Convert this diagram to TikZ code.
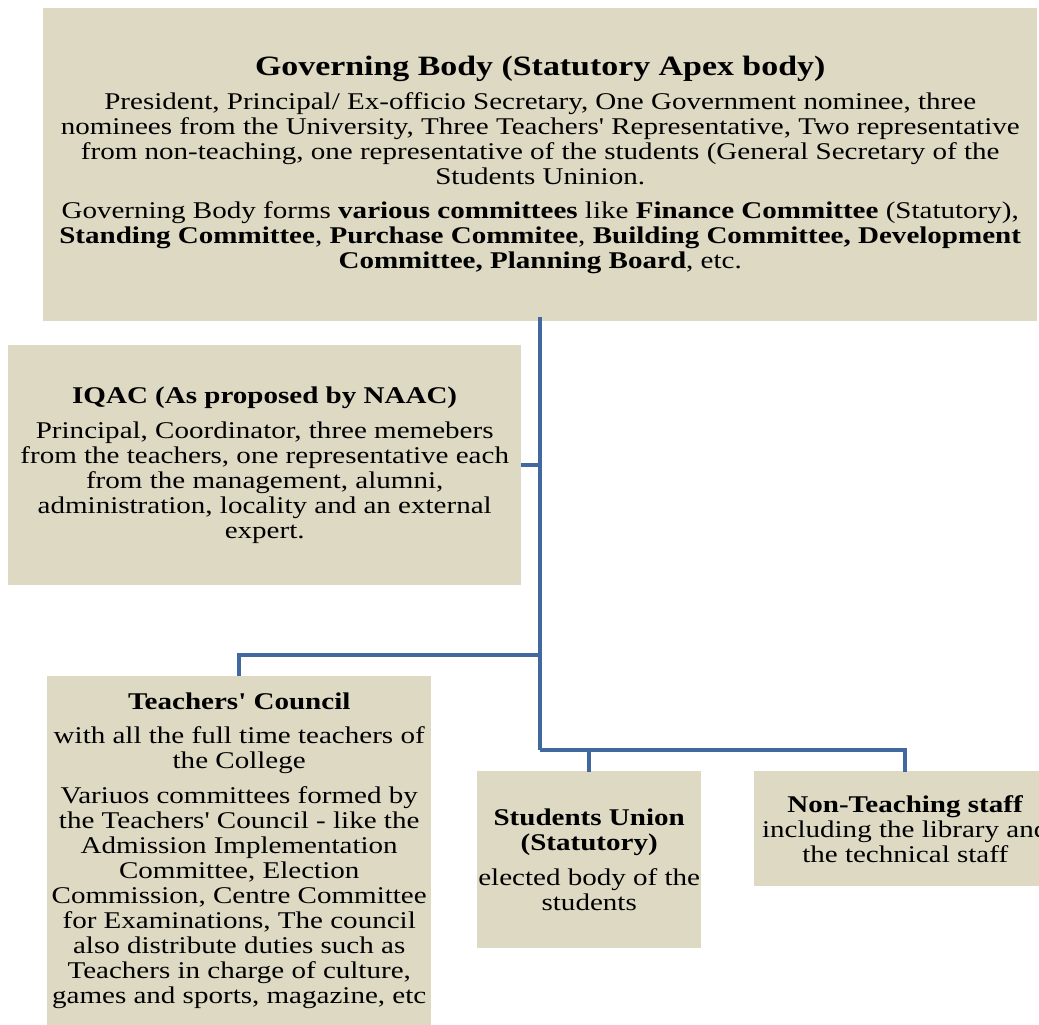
\documentclass[tikz,border=0pt]{standalone}
\usepackage{fontspec}
\newfontfamily\df[FakeStretch=1.21,Ligatures=TeXOff]{Liberation Serif}
\definecolor{boxfill}{HTML}{DDD9C3}
\definecolor{conncol}{RGB}{65,105,160}
\begin{document}
\begin{tikzpicture}[x=1pt,y=-1pt,
  box/.style={fill=boxfill, draw=none, inner sep=0pt, align=center, anchor=north west,
    font=\df\fontsize{24}{25}\selectfont},
  conn/.style={draw=conncol, line width=3.6pt, line join=miter}]
\clip (0,0) rectangle (1039,1025);
\fill[white] (0,0) rectangle (1039,1025);

\node[box, minimum width=994, minimum height=313] (gb) at (43,8) {%
{\bfseries\fontsize{28}{30}\selectfont Governing Body (Statutory Apex body)}\\[9pt]
President, Principal/ Ex-officio Secretary, One Government nominee, three\\
nominees from the University, Three Teachers' Representative, Two representative\\
from non-teaching, one representative of the students (General Secretary of the\\
Students Uninion.\\[9pt]
Governing Body forms \textbf{various committees} like \textbf{Finance Committee} (Statutory),\\
\textbf{Standing Committee}, \textbf{Purchase Commitee}, \textbf{Building Committee, Development}\\
\textbf{Committee, Planning Board}, etc.};

\node[box, minimum width=513, minimum height=240] (iqac) at (8,345) {%
\textbf{IQAC (As proposed by NAAC)}\\[10pt]
Principal, Coordinator, three memebers\\
from the teachers, one representative each\\
from the management, alumni,\\
administration, locality and an external\\
expert.};

\node[box, minimum width=384, minimum height=349] (tc) at (47,676) {%
\textbf{Teachers' Council}\\[9pt]
with all the full time teachers of\\
the College\\[10pt]
Variuos committees formed by\\
the Teachers' Council - like the\\
Admission Implementation\\
Committee, Election\\
Commission, Centre Committee\\
for Examinations, The council\\
also distribute duties such as\\
Teachers in charge of culture,\\
games and sports, magazine, etc};

\node[box, minimum width=224, minimum height=177] (su) at (477,771) {%
\textbf{Students Union}\\
\textbf{(Statutory)}\\[10pt]
elected body of the\\
students};

\node[box, minimum width=302, minimum height=115] (nt) at (754,771) {%
\textbf{Non-Teaching staff}\\
including the library and\\
the technical staff};

\coordinate (j2) at (gb.south |- 0,655);
\coordinate (j3) at (gb.south |- 0,750);
\draw[conn] ([yshift=4]gb.south) -- (j3);
\draw[conn] (iqac.east) -- (iqac.east -| gb.south);
\draw[conn] (j2) -| (tc.north);
\draw[conn] (j3) -| ([yshift=-1]su.north);
\draw[conn] (j3) -| ([yshift=-1]nt.north);
\end{tikzpicture}
\end{document}
